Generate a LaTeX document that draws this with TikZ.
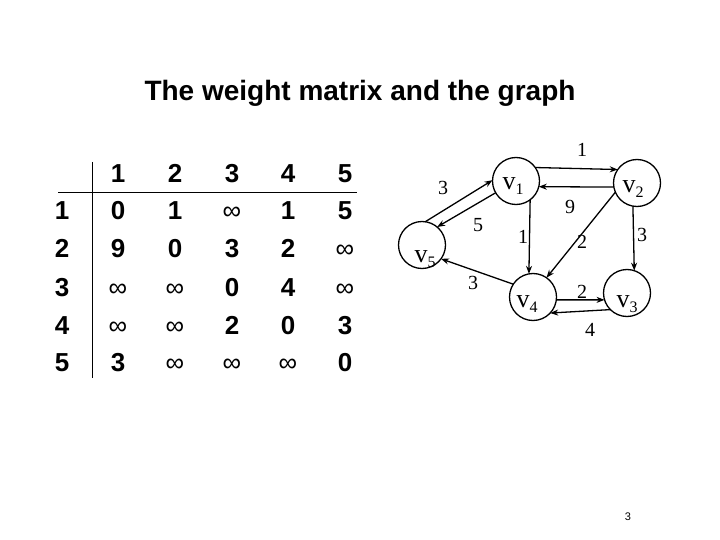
\documentclass[tikz,border=0pt]{standalone}
\usepackage{fontspec}
\setmainfont{Liberation Serif}
\newfontfamily\arial{Liberation Sans}
\usetikzlibrary{arrows.meta}
\begin{document}
\begin{tikzpicture}[x=1pt,y=-1pt,
  vtx/.style={draw,circle,line width=1.3pt,minimum size=47pt,inner sep=0pt,outer sep=0pt},
  vlab/.style={anchor=base,inner sep=0pt,font=\fontsize{26}{26}\selectfont},
  edge/.style={line width=1.3pt,-{Stealth[length=8pt,width=6pt]}},
  wt/.style={font=\fontsize{20}{20}\selectfont,inner sep=0pt},
  cell/.style={anchor=base,inner sep=0pt,font=\arial\bfseries\fontsize{26}{26}\selectfont},
  inf/.style={anchor=base,inner sep=0pt,font=\arial\fontsize{26}{26}\selectfont}]
\useasboundingbox (0,0) rectangle (720,540);
\newcommand{\vl}[1]{v\raisebox{-5pt}{\fontsize{16}{16}\selectfont #1}}
% title
\node[anchor=base,inner sep=0pt,font=\arial\bfseries\fontsize{28}{28}\selectfont] (title) at (360,101) {The weight matrix and the graph};
% table
\draw[line width=1pt] (58,193) -- (357,193);
\draw[line width=1pt] (92,162) -- (92,378);
\foreach \c/\x in {1/118,2/175,3/232,4/288,5/345}{
  \node[cell] (h\c) at (\x,183) {\c};
}
\foreach \r/\y in {1/220,2/258,3/296,4/334,5/371}{
  \node[cell] (r\r) at (62,\y) {\r};
}
\node[cell] (m11) at (118,220) {0};
\node[cell] (m12) at (175,220) {1};
\node[inf]  (m13) at (232,220) {∞};
\node[cell] (m14) at (288,220) {1};
\node[cell] (m15) at (345,220) {5};
\node[cell] (m21) at (118,258) {9};
\node[cell] (m22) at (175,258) {0};
\node[cell] (m23) at (232,258) {3};
\node[cell] (m24) at (288,258) {2};
\node[inf]  (m25) at (345,258) {∞};
\node[inf]  (m31) at (118,296) {∞};
\node[inf]  (m32) at (175,296) {∞};
\node[cell] (m33) at (232,296) {0};
\node[cell] (m34) at (288,296) {4};
\node[inf]  (m35) at (345,296) {∞};
\node[inf]  (m41) at (118,334) {∞};
\node[inf]  (m42) at (175,334) {∞};
\node[cell] (m43) at (232,334) {2};
\node[cell] (m44) at (288,334) {0};
\node[cell] (m45) at (345,334) {3};
\node[cell] (m51) at (118,371) {3};
\node[inf]  (m52) at (175,371) {∞};
\node[inf]  (m53) at (232,371) {∞};
\node[inf]  (m54) at (288,371) {∞};
\node[cell] (m55) at (345,371) {0};
% graph
\node[vtx] (v1) at (516,181) {};
\node[vtx] (v2) at (637,183) {};
\node[vtx] (v5) at (422,245) {};
\node[vtx] (v4) at (533,297) {};
\node[vtx] (v3) at (627,293) {};
\node[vlab] (l1) at (513,190) {\vl{1}};
\node[vlab] (l2) at (633,193) {\vl{2}};
\node[vlab] (l5) at (425,262) {\vl{5}};
\node[vlab] (l4) at (527,307) {\vl{4}};
\node[vlab] (l3) at (627,307) {\vl{3}};
\draw[edge] (v1.35) -- (v2.145);
\draw[edge] (v2.190) -- (v1.-14);
\draw[edge] (v5.82) -- (v1.178);
\draw[edge] (v1.210) -- (v5.50);
\draw[edge] (v1.-53) -- (v4.100);
\draw[edge] (v2.203) -- (v4.55);
\draw[edge] (v2.-100) -- (v3.72);
\draw[edge] (v4.147) -- (v5.-36);
\draw[edge] (v4.-7) -- (v3.197);
\draw[edge] (v3.225) -- (v4.-43);
% weights
\node[wt] (w12) at (582,150) {1};
\node[wt] (w21) at (570,207) {9};
\node[wt] (w51) at (443,188) {3};
\node[wt] (w15) at (478,225) {5};
\node[wt] (w14) at (523,237) {1};
\node[wt] (w24) at (582,242) {2};
\node[wt] (w23) at (642,235) {3};
\node[wt] (w45) at (473,283) {3};
\node[wt] (w43) at (582,292) {2};
\node[wt] (w34) at (590,330) {4};
% page number
\node[inner sep=0pt,font=\arial\fontsize{11}{11}\selectfont] (page) at (628,517) {3};
\end{tikzpicture}
\end{document}
